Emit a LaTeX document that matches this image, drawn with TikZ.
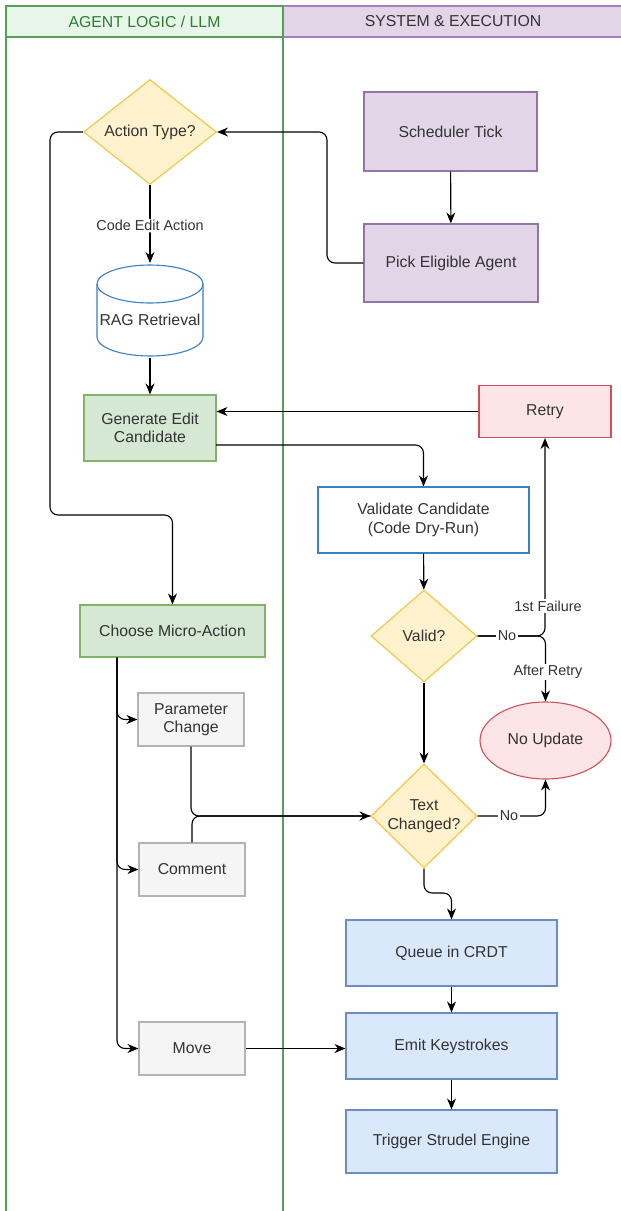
\documentclass[tikz,border=0pt]{standalone}
\usepackage{fontspec}
\setmainfont{Liberation Sans}
\usetikzlibrary{shapes.geometric,arrows.meta,calc}
\definecolor{txt}{HTML}{333333}
\definecolor{lanegreen}{HTML}{5A9E5A}
\definecolor{lanegreenfill}{HTML}{E8F5E9}
\definecolor{lanegreentxt}{HTML}{2E7D32}
\definecolor{lanepurple}{HTML}{A680B8}
\definecolor{gfill}{HTML}{D5E8D4}
\definecolor{gdraw}{HTML}{82B366}
\definecolor{pfill}{HTML}{E1D5E7}
\definecolor{pdraw}{HTML}{9673A6}
\definecolor{yfill}{HTML}{FFF2CC}
\definecolor{ydraw}{HTML}{F2C440}
\definecolor{rfill}{HTML}{FDE4E6}
\definecolor{rdraw}{HTML}{D0505A}
\definecolor{bfill}{HTML}{DAE8FC}
\definecolor{bdraw}{HTML}{6C8EBF}
\definecolor{vdraw}{HTML}{3B7FC4}
\definecolor{grfill}{HTML}{F5F5F5}
\definecolor{grdraw}{HTML}{B3B3B3}
\tikzset{
  base/.style={font=\fontsize{15.8}{18.5}\selectfont, text=txt, align=center, line width=1.1pt, inner sep=2pt},
  pbox/.style={base, rectangle, draw=pdraw, fill=pfill},
  gbox/.style={base, rectangle, draw=gdraw, fill=gfill},
  rbox/.style={base, rectangle, draw=rdraw, fill=rfill},
  bbox/.style={base, rectangle, draw=bdraw, fill=bfill},
  vbox/.style={base, rectangle, draw=vdraw, fill=white},
  grbox/.style={base, rectangle, draw=grdraw, fill=grfill},
  decis/.style={base, diamond, draw=ydraw, fill=yfill, inner sep=-6pt, aspect=1.2},
  conn/.style={line width=1.1pt, draw=black, rounded corners=8pt, -{Stealth[length=11pt,width=9pt]}},
  plain/.style={line width=1.1pt, draw=black, rounded corners=8pt},
  elab/.style={font=\fontsize{14.4}{16.5}\selectfont, text=txt, fill=white, inner sep=1.5pt}
}
\begin{document}
\begin{tikzpicture}[x=1pt,y=-1pt]
\useasboundingbox (0,0) rectangle (621,1211);
% lanes
\draw[line width=1.4pt, draw=lanepurple, fill=pfill] (283,6) rectangle (640,37);
\draw[line width=1.4pt, draw=lanegreen, fill=lanegreenfill] (6,6) rectangle (283,37);
\draw[line width=1.4pt, draw=lanegreen] (6,37) -- (6,1220);
\draw[line width=1.4pt, draw=lanegreen] (283,37) -- (283,1220);
\node[font=\fontsize{15.8}{18.5}\selectfont, text=lanegreentxt] (hl) at (144.5,21.5) {AGENT LOGIC / LLM};
\node[font=\fontsize{15.8}{18.5}\selectfont, text=txt] (hr) at (453,21.5) {SYSTEM \& EXECUTION};

% nodes
\node[decis, minimum width=133pt, minimum height=105pt] (action) at (150,132) {Action Type?};
\node[pbox, minimum width=173pt, minimum height=79pt] (sched) at (450.5,131.5) {Scheduler Tick};
\node[pbox, minimum width=174pt, minimum height=78pt] (pick) at (451,263) {Pick Eligible Agent};
% cylinder
\node[base, minimum width=106pt, minimum height=94pt] (rag) at (150,310) {};
\fill[white] (97,284) -- (97,337) arc[start angle=180, end angle=0, x radius=53, y radius=19] -- (203,284) arc[start angle=0, end angle=-180, x radius=53, y radius=19] -- cycle;
\draw[line width=1.1pt, draw=vdraw] (97,284) -- (97,337) arc[start angle=180, end angle=0, x radius=53, y radius=19] -- (203,284);
\draw[line width=1.1pt, draw=vdraw] (150,284) ellipse[x radius=53, y radius=19];
\node[base] (ragtxt) at (150,320) {RAG Retrieval};
\node[gbox, minimum width=132pt, minimum height=66pt] (gen) at (150,428) {Generate Edit\\Candidate};
\node[rbox, minimum width=132pt, minimum height=52pt] (retry) at (545,411.5) {Retry};
\node[vbox, minimum width=211pt, minimum height=66pt] (valid8) at (423.5,520) {Validate Candidate\\(Code Dry-Run)};
\node[decis, minimum width=106pt, minimum height=92pt] (validq) at (424,636) {Valid?};
\node[base, ellipse, draw=rdraw, fill=rfill, minimum width=131pt, minimum height=77pt] (noupd) at (545.5,740.5) {No Update};
\node[gbox, minimum width=185pt, minimum height=52pt] (choose) at (172.5,631) {Choose Micro-Action};
\node[grbox, minimum width=106pt, minimum height=53pt] (param) at (191,719.5) {Parameter\\Change};
\node[grbox, minimum width=106pt, minimum height=53pt] (comment) at (192,869.5) {Comment};
\node[decis, minimum width=106pt, minimum height=104pt] (tc) at (424,816) {Text\\Changed?};
\node[bbox, minimum width=211pt, minimum height=66pt] (queue) at (451.5,953) {Queue in CRDT};
\node[bbox, minimum width=211pt, minimum height=66pt] (emit) at (451.5,1046) {Emit Keystrokes};
\node[bbox, minimum width=211pt, minimum height=63pt] (trig) at (451.5,1141.5) {Trigger Strudel Engine};
\node[grbox, minimum width=106pt, minimum height=53pt] (move) at (192,1048.5) {Move};

% helper coordinates
\coordinate (bendA) at (50,515);
\coordinate (bendP) at (327,263);
\coordinate (genout) at (216,445);
\coordinate (trunk) at (117,657);
\coordinate (tcdown) at (424,893);

% connectors
\draw[conn] (sched) -- (pick);
\draw[conn] (pick.west) -- (bendP) |- (action.east);
\draw[conn] (action.west) -| (bendA) -| (choose.north);
\draw[conn] (action.south) -- node[elab, pos=0.52]{Code Edit Action} (action.south |- 0,263);
\draw[conn] (rag.south) -- (gen.north);
\draw[conn] (retry.west) -- (gen.east |- retry.west);
\draw[conn] (genout) -| (valid8.north);
\draw[conn] (valid8) -- (validq);
\draw[conn] (validq.east) -| (retry.south);
\draw[conn] (validq.east) -| (noupd.north);
\node[elab] (l1st) at (548,606) {1st Failure};
\node[elab] (laft) at (548,672) {After Retry};
\node[elab] (lno1) at (507,636) {No};
\draw[conn] (validq.south) -- (tc.north);
\draw[conn] (tc.east) -| (noupd.south);
\node[elab] (lno2) at (509,816) {No};
\draw[conn] (tc.south) -- (tcdown) -| (queue.north);
\draw[conn] (queue) -- (emit);
\draw[conn] (emit) -- (trig);
\draw[conn] (choose.south -| trunk) |- (param.west);
\draw[conn] (choose.south -| trunk) |- (comment.west);
\draw[conn] (choose.south -| trunk) |- (move.west);
\draw[conn] (param.south) |- (tc.west);
\draw[plain] (comment.north) |- (tc.west);
\draw[conn] (move.east) -- (move.east -| emit.west);
\end{tikzpicture}
\end{document}
